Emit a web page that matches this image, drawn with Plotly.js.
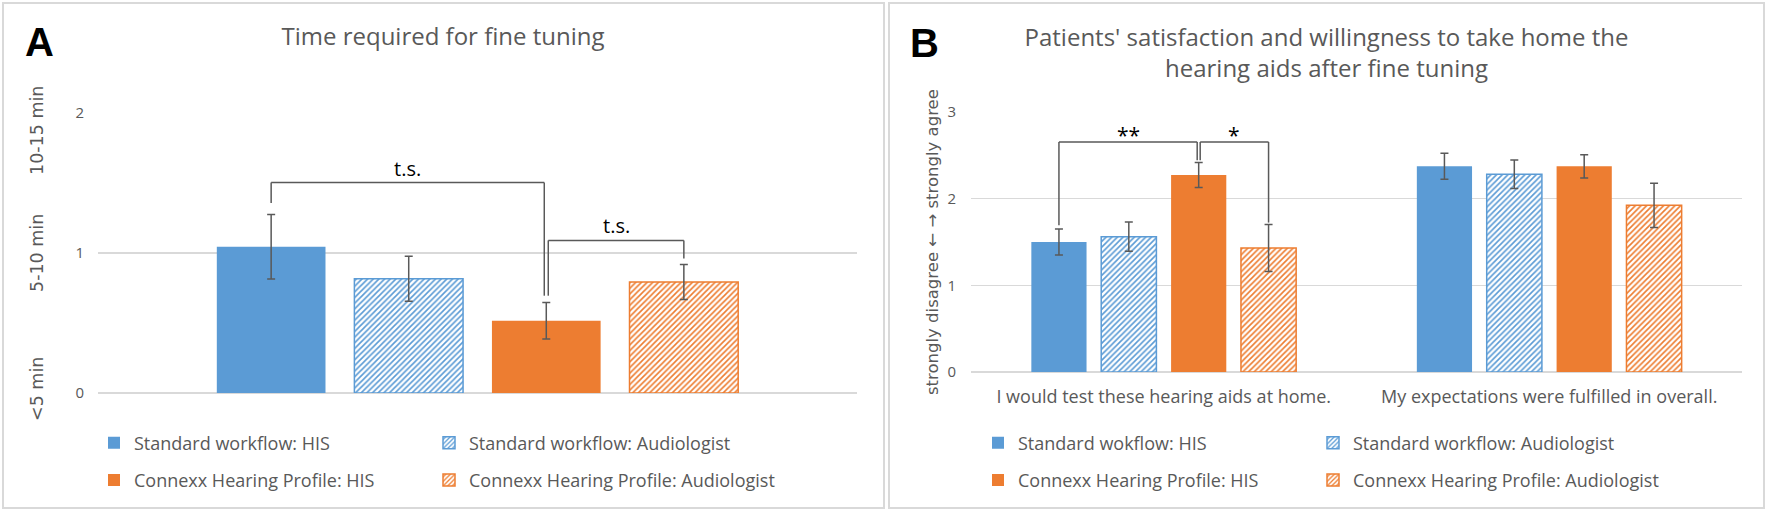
<!DOCTYPE html>
<html><head><meta charset="utf-8">
<script src="https://cdn.plot.ly/plotly-3.0.1.min.js"></script>
<style>
html,body{margin:0;padding:0;background:#fff;}
#wrap{position:relative;width:1767px;height:511px;overflow:hidden;background:#fff;}
#chartA{position:absolute;left:0;top:0;width:886px;height:511px;}
#chartB{position:absolute;left:886px;top:0;width:881px;height:511px;}
.frame{position:absolute;border:2px solid #d9d9d9;box-sizing:border-box;pointer-events:none;}
</style></head>
<body><div id="wrap">
<div id="chartA"></div><div id="chartB"></div>
<div class="frame" style="left:2px;top:2px;width:883px;height:507px"></div>
<div class="frame" style="left:888px;top:2px;width:877px;height:507px"></div>
</div>
<script>
// ---------- Panel A data ----------
const titleA = 'Time required for fine tuning';
const seriesA = ['Standard workflow: HIS', 'Standard workflow: Audiologist', 'Connexx Hearing Profile: HIS', 'Connexx Hearing Profile: Audiologist'];
const categoryA = ['Fine tuning'];
const timeMeans = [1.045, 0.816, 0.516, 0.793];
const timeErrors = [0.23, 0.16, 0.13, 0.125];
const timeTicks = [0, 1, 2];
const timeLevelLabels = ['<5 min', '5-10 min', '10-15 min'];
// brackets: [category index, from bar, to bar, top y, left end y, right end y, label]
const bracketsA = [
  [0, 0, 2, 1.503, 1.357, 0.695, 't.s.'],
  [0, 2, 3, 1.09, 0.695, 0.961, 't.s.']
];

// ---------- Panel B data ----------
const titleB = "Patients' satisfaction and willingness to take home the<br>hearing aids after fine tuning";
const seriesB = ['Standard wokflow: HIS', 'Standard workflow: Audiologist', 'Connexx Hearing Profile: HIS', 'Connexx Hearing Profile: Audiologist'];
const statementsB = ['I would test these hearing aids at home.', 'My expectations were fulfilled in overall.'];
const swHIS = [1.50, 2.373];
const swAud = [1.562, 2.281];
const chpHIS = [2.273, 2.373];
const chpAud = [1.431, 1.923];
const swHISErr = [0.15, 0.15];
const swAudErr = [0.17, 0.165];
const chpHISErr = [0.145, 0.135];
const chpAudErr = [0.27, 0.255];
const agreeTicks = [0, 1, 2, 3];
const axisTitleB = 'strongly disagree \u2190 \u2192 strongly agree';
const bracketsB = [
  [0, 0, 2, 2.654, 1.693, 2.443, '**'],
  [0, 2, 3, 2.654, 2.443, 1.724, '*']
];

// ---------- styles ----------
const colors = ['#5B9BD5', '#5B9BD5', '#ED7D31', '#ED7D31'];
const hatched = [false, true, false, true];
const legendColumn = ['legend', 'legend2', 'legend', 'legend2'];
const grey = '#595959';
const FONT = 'Open Sans, Segoe UI, sans-serif';
const BARGAP = 0.275, GROUPGAP = 0.21;

function barTrace(name, x, y, err, i, grp) {
  const c = colors[i];
  const marker = hatched[i]
    ? {color: '#ffffff', pattern: {shape: '/', fgcolor: c, bgcolor: '#ffffff', size: 4, solidity: 0.4, fillmode: 'replace'}, line: {color: c, width: 1.5}}
    : {color: c, line: {width: 0}};
  return {type: 'bar', name: name, x: x, y: y, marker: marker, legendgroup: grp + i, legend: legendColumn[i],
    error_y: {type: 'data', array: err, visible: true, color: grey, thickness: 1.5, width: 4},
    hoverinfo: 'y'};
}

function mk(W, H, m) {
  const pw = W - m.l - m.r, ph = H - m.t - m.b;
  return {pw: pw, ph: ph, px: x => (x - m.l) / pw, py: y => 1 - (y - m.t) / ph};
}

function legendAt(x, y) {
  return {orientation: 'v', traceorder: 'grouped', x: x, xanchor: 'left', y: y, yanchor: 'top',
    tracegroupgap: 11, bgcolor: 'rgba(0,0,0,0)', borderwidth: 0,
    font: {family: FONT, size: 18, color: grey}};
}

function bracketParts(list, nBars, unitPx, dxPx) {
  const slot = (1 - BARGAP) / nBars;
  const cx = (cat, i) => cat + (i - (nBars - 1) / 2) * slot;
  const shapes = [], anns = [];
  list.forEach((b, k) => {
    const xl = cx(b[0], b[1]) + dxPx[k][0] / unitPx;
    const xr = cx(b[0], b[2]) + dxPx[k][1] / unitPx;
    const ln = {color: grey, width: 1.5};
    shapes.push({type: 'line', xref: 'x', yref: 'y', x0: xl, x1: xl, y0: b[4], y1: b[3], line: ln});
    shapes.push({type: 'line', xref: 'x', yref: 'y', x0: xl, x1: xr, y0: b[3], y1: b[3], line: ln});
    shapes.push({type: 'line', xref: 'x', yref: 'y', x0: xr, x1: xr, y0: b[3], y1: b[5], line: ln});
    const star = b[6].indexOf('*') >= 0;
    anns.push({xref: 'x', yref: 'y', x: (xl + xr) / 2, y: b[3], text: b[6], showarrow: false,
      yanchor: 'bottom', yshift: star ? -9 : -1, font: {family: FONT, size: star ? 21 : 20, color: '#000'}});
  });
  return {shapes: shapes, anns: anns};
}

// ---------- Panel A ----------
(function () {
  const W = 886, H = 511, m = {l: 98, r: 29, t: 113, b: 118, pad: 0};
  const g = mk(W, H, m);
  const traces = seriesA.map((s, i) => barTrace(s, categoryA, [timeMeans[i]], [timeErrors[i]], i, 'a'));
  const br = bracketParts(bracketsA, 4, g.pw, [[0, -2], [2, 0]]);
  const anns = br.anns.slice();
  anns.push({xref: 'paper', yref: 'paper', x: g.px(39), y: g.py(42), text: '<b>A</b>', showarrow: false,
    xanchor: 'center', yanchor: 'middle', font: {family: 'Liberation Sans, Arial, sans-serif', size: 40, color: '#000'}});
  const shifts = [4, 0, -18];
  timeLevelLabels.forEach((t, i) => anns.push({xref: 'paper', yref: 'y', x: g.px(37), y: timeTicks[i], yshift: shifts[i],
    text: t, textangle: -90, showarrow: false, xanchor: 'center', yanchor: 'middle',
    font: {family: 'DejaVu Sans, Verdana, sans-serif', size: 17.5, color: grey}}));
  const layout = {
    width: W, height: H, margin: m, paper_bgcolor: '#fff', plot_bgcolor: '#fff',
    title: {text: titleA, x: 0.5, xref: 'container', y: 1 - 37 / H, yref: 'container', yanchor: 'middle',
      font: {family: FONT, size: 24, color: grey}},
    barmode: 'group', bargap: BARGAP, bargroupgap: GROUPGAP,
    xaxis: {type: 'category', range: [-0.5, 0.5], showticklabels: false, showgrid: false, zeroline: false, showline: false, ticks: '', fixedrange: true},
    yaxis: {range: [0, 2], tickvals: timeTicks, ticks: '', ticklabelstandoff: 13, showgrid: true, gridcolor: '#d9d9d9', gridwidth: 1.5,
      zeroline: true, zerolinecolor: '#d9d9d9', zerolinewidth: 1.5, showline: false, fixedrange: true,
      tickfont: {family: FONT, size: 15, color: grey}},
    showlegend: true,
    legend: legendAt(g.px(94), g.py(424.5)),
    legend2: legendAt(g.px(429), g.py(424.5)),
    shapes: br.shapes, annotations: anns
  };
  Plotly.newPlot('chartA', traces, layout, {displayModeBar: false, staticPlot: true});
})();

// ---------- Panel B ----------
(function () {
  const W = 881, H = 511, m = {l: 85, r: 25, t: 112, b: 139, pad: 0};
  const g = mk(W, H, m);
  const vals = [swHIS, swAud, chpHIS, chpAud];
  const errs = [swHISErr, swAudErr, chpHISErr, chpAudErr];
  const traces = seriesB.map((s, i) => barTrace(s, statementsB, vals[i], errs[i], i, 'b'));
  const br = bracketParts(bracketsB, 4, g.pw / 2, [[0, -1.5], [1.5, 0]]);
  const anns = br.anns.slice();
  anns.push({xref: 'paper', yref: 'paper', x: g.px(38.5), y: g.py(43), text: '<b>B</b>', showarrow: false,
    xanchor: 'center', yanchor: 'middle', font: {family: 'Liberation Sans, Arial, sans-serif', size: 40, color: '#000'}});
  anns.push({xref: 'paper', yref: 'paper', x: g.px(46), y: 0.5, text: axisTitleB, textangle: -90, showarrow: false,
    xanchor: 'center', yanchor: 'middle', font: {family: 'DejaVu Sans, Verdana, sans-serif', size: 16.5, color: grey}});
  const layout = {
    width: W, height: H, margin: m, paper_bgcolor: '#fff', plot_bgcolor: '#fff',
    title: {text: titleB, x: 0.5, xref: 'container', y: 1 - 46 / H, yref: 'container', yanchor: 'middle',
      font: {family: FONT, size: 24, color: grey}},
    barmode: 'group', bargap: BARGAP, bargroupgap: GROUPGAP,
    xaxis: {type: 'category', range: [-0.5, 1.5], showgrid: false, zeroline: false, showline: false, ticks: '', ticklabelstandoff: 12,
      tickfont: {family: FONT, size: 18, color: grey}, fixedrange: true},
    yaxis: {range: [0, 3], tickvals: agreeTicks, ticks: '', ticklabelstandoff: 14, showgrid: true, gridcolor: '#d9d9d9', gridwidth: 1.5,
      zeroline: true, zerolinecolor: '#d9d9d9', zerolinewidth: 1.5, showline: false, fixedrange: true,
      tickfont: {family: FONT, size: 15, color: grey}},
    showlegend: true,
    legend: legendAt(g.px(92), g.py(424.5)),
    legend2: legendAt(g.px(427), g.py(424.5)),
    shapes: br.shapes, annotations: anns
  };
  Plotly.newPlot('chartB', traces, layout, {displayModeBar: false, staticPlot: true});
})();
</script></body></html>
